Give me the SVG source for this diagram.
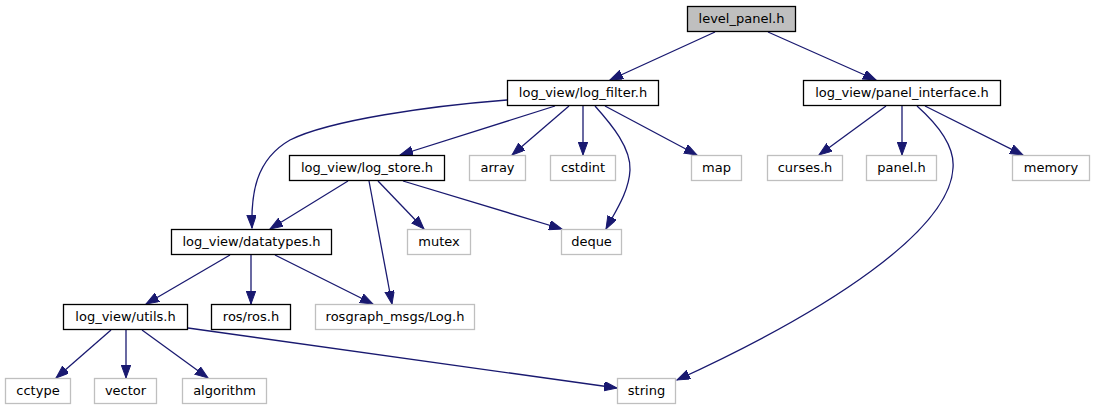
<svg xmlns="http://www.w3.org/2000/svg" width="1095" height="411" viewBox="0 0 1095 411">
<style>
.n rect{fill:#fff;stroke:#000;stroke-width:1.3}
.n.root rect{fill:#bfbfbf}
.n.ext rect{stroke:#bfbfbf}
.n text{font-family:"DejaVu Sans","Liberation Sans",sans-serif;font-size:13px;fill:#000;text-anchor:middle}
#edges path{fill:none;stroke:#191970;stroke-width:1.3;marker-end:url(#arr)}
</style>
<defs>
<marker id="arr" markerUnits="userSpaceOnUse" markerWidth="14" markerHeight="10" refX="13" refY="4.75" orient="auto" viewBox="0 0 14 10">
<path d="M0,0 L13,4.75 L0,9.5 z" fill="#191970" stroke="#191970" stroke-width="1"/>
</marker>
</defs>
<rect width="1095" height="411" fill="#fff"/>
<g id="edges">
<path d="M715,32 L610,80"/>
<path d="M768,32 L876,80"/>
<path d="M555,106 L400,155"/>
<path d="M507,100 C430,106 330,120 290,140 C255,160 251,195 252,228"/>
<path d="M569,106 L512,155"/>
<path d="M583,106 L583,155"/>
<path d="M595,106 C612,125 631,148 630,170 C629,192 615,212 606,229"/>
<path d="M605,106 L697,155"/>
<path d="M886,106 L819,155"/>
<path d="M902,106 L902,155"/>
<path d="M925,106 L1023,155"/>
<path d="M917,106 C935,122 955,145 953,168 C950,230 830,310 677,380"/>
<path d="M348,181 L270,229"/>
<path d="M369,181 L392,304"/>
<path d="M378,181 L424,229"/>
<path d="M403,181 L562,229"/>
<path d="M230,255 L146,304"/>
<path d="M251,255 L251,304"/>
<path d="M275,255 L373,304"/>
<path d="M111,330 L56,378"/>
<path d="M126,330 L126,378"/>
<path d="M142,330 L208,378"/>
<path d="M188,328 L617,388"/>
</g>
<g id="level_panel" class="n root"><rect x="687.5" y="6.5" width="108" height="25"/><text x="741.5" y="23">level_panel.h</text></g>
<g id="log_filter" class="n"><rect x="507.5" y="80.5" width="151" height="25"/><text x="583" y="97">log_view/log_filter.h</text></g>
<g id="panel_interface" class="n"><rect x="803.5" y="80.5" width="197" height="25"/><text x="902" y="97">log_view/panel_interface.h</text></g>
<g id="log_store" class="n"><rect x="289.5" y="155.5" width="155" height="25"/><text x="367" y="172">log_view/log_store.h</text></g>
<g id="array" class="n ext"><rect x="469.5" y="155.5" width="56" height="25"/><text x="497.5" y="172">array</text></g>
<g id="cstdint" class="n ext"><rect x="550.5" y="155.5" width="65" height="25"/><text x="583" y="172">cstdint</text></g>
<g id="map" class="n ext"><rect x="691.5" y="155.5" width="50" height="25"/><text x="716.5" y="172">map</text></g>
<g id="curses" class="n ext"><rect x="767.5" y="155.5" width="75" height="25"/><text x="805" y="172">curses.h</text></g>
<g id="panel" class="n ext"><rect x="866.5" y="155.5" width="70" height="25"/><text x="901.5" y="172">panel.h</text></g>
<g id="memory" class="n ext"><rect x="1012.5" y="155.5" width="77" height="25"/><text x="1051" y="172">memory</text></g>
<g id="datatypes" class="n"><rect x="171.5" y="229.5" width="160" height="25"/><text x="251.5" y="246">log_view/datatypes.h</text></g>
<g id="mutex" class="n ext"><rect x="407.5" y="229.5" width="63" height="25"/><text x="439" y="246">mutex</text></g>
<g id="deque" class="n ext"><rect x="561.5" y="229.5" width="60" height="25"/><text x="591.5" y="246">deque</text></g>
<g id="utils" class="n"><rect x="63.5" y="304.5" width="124" height="25"/><text x="125.5" y="321">log_view/utils.h</text></g>
<g id="ros" class="n"><rect x="211.5" y="304.5" width="79" height="25"/><text x="251" y="321">ros/ros.h</text></g>
<g id="rosgraph" class="n ext"><rect x="315.5" y="304.5" width="159" height="25"/><text x="395" y="321">rosgraph_msgs/Log.h</text></g>
<g id="cctype" class="n ext"><rect x="5.5" y="378.5" width="65" height="25"/><text x="38" y="395">cctype</text></g>
<g id="vector" class="n ext"><rect x="94.5" y="378.5" width="62" height="25"/><text x="125.5" y="395">vector</text></g>
<g id="algorithm" class="n ext"><rect x="182.5" y="378.5" width="84" height="25"/><text x="224.5" y="395">algorithm</text></g>
<g id="string" class="n ext"><rect x="617.5" y="378.5" width="58" height="25"/><text x="646.5" y="395">string</text></g>
</svg>
